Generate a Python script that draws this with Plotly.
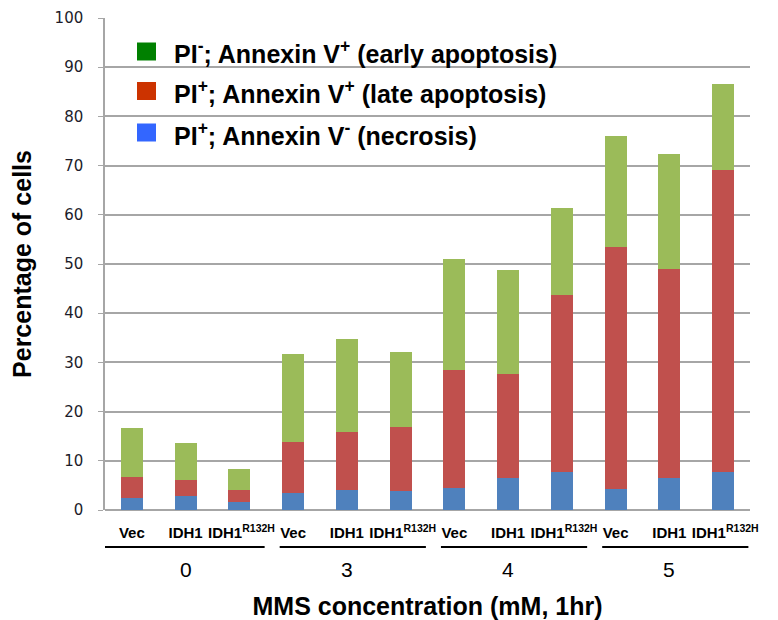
import plotly.graph_objects as go

# ---- data ----
concentrations = ["0", "3", "4", "5"]
constructs = ["Vec", "IDH1", "IDH1<sup>R132H</sup>"]
necrosis = [2.4, 2.9, 1.6, 3.5, 4.0, 3.8, 4.5, 6.6, 7.7, 4.2, 6.6, 7.7]          # PI+; Annexin V-
late_apoptosis = [4.3, 3.3, 2.4, 10.4, 11.8, 13.1, 23.9, 21.0, 35.9, 49.2, 42.4, 61.4]  # PI+; Annexin V+
early_apoptosis = [9.9, 7.4, 4.3, 17.9, 19.0, 15.2, 22.7, 21.2, 17.7, 22.7, 23.3, 17.5]  # PI-; Annexin V+
y_ticks = [0, 10, 20, 30, 40, 50, 60, 70, 80, 90, 100]

legend_labels = [
    "PI<sup>-</sup>; Annexin V<sup>+</sup> (early apoptosis)",
    "PI<sup>+</sup>; Annexin V<sup>+</sup> (late apoptosis)",
    "PI<sup>+</sup>; Annexin V<sup>-</sup> (necrosis)",
]

# ---- styles ----
bar_colors = {"nec": "#4F81BD", "late": "#C0504D", "early": "#9BBB59"}
legend_colors = ["#008000", "#CC3300", "#3366FF"]
FONT = "Arial, 'Liberation Sans', sans-serif"
GRID = "#A6A6A6"
NB = "\u00a0"
# (leading, trailing) non-breaking padding to nudge labels like the original layout
label_pad = [("", ""), ("", ""), (NB, "")]

n = len(necrosis)
xs = list(range(n))
tick_text = []
for i in xs:
    k = i % len(constructs)
    lead, trail = label_pad[k]
    tick_text.append(lead + constructs[k] + trail)

fig = go.Figure()
for vals, key in [(necrosis, "nec"), (late_apoptosis, "late"), (early_apoptosis, "early")]:
    fig.add_trace(go.Bar(x=xs, y=vals, marker=dict(color=bar_colors[key], line=dict(width=0)),
                         width=0.41, showlegend=False))

# page has an 8px body margin: figure sized/offset to compensate
PAGE_OFF = 8
W, H = 778 - PAGE_OFF, 620 - PAGE_OFF
PLOT_L, PLOT_T, PLOT_R, PLOT_B = 105, 18, 750, 510   # plot area in page pixels
pw, ph = PLOT_R - PLOT_L, PLOT_B - PLOT_T
ml, mt = PLOT_L - PAGE_OFF, PLOT_T - PAGE_OFF
mr, mb = W - ml - pw, H - mt - ph

def py_paper(py):
    return (PLOT_B - py) / ph

def px_paper(pxv):
    return (pxv - PLOT_L) / pw

shapes = []
annotations = []

# group underlines & labels
for g, c in enumerate(concentrations):
    x0 = g * 3 - 0.5 + (0.25 if g > 0 else -0.05)
    x1 = g * 3 + 2.47
    shapes.append(dict(type="line", xref="x", yref="paper", x0=x0, x1=x1,
                       y0=py_paper(547), y1=py_paper(547),
                       line=dict(color="black", width=2)))
    annotations.append(dict(text=c, xref="x", yref="paper", x=g * 3 + 1, y=py_paper(569),
                            xanchor="center", yanchor="middle", showarrow=False,
                            font=dict(family=FONT, size=21, color="black")))

# custom legend
row_y = [51.5, 91, 132.5]
for lab, col, ry in zip(legend_labels, legend_colors, row_y):
    shapes.append(dict(type="rect", xref="paper", yref="paper",
                       x0=px_paper(137), x1=px_paper(156),
                       y0=py_paper(ry + 9), y1=py_paper(ry - 9),
                       fillcolor=col, line=dict(width=0)))
    annotations.append(dict(text=lab, xref="paper", yref="paper", x=px_paper(172),
                            y=py_paper(ry + 1), xanchor="left", yanchor="middle", showarrow=False,
                            font=dict(family=FONT, size=25, color="black", weight="bold")))

fig.update_layout(
    width=W, height=H,
    margin=dict(l=ml, r=mr, t=mt, b=mb, autoexpand=False),
    paper_bgcolor="white", plot_bgcolor="white",
    barmode="stack", bargap=0.59,
    shapes=shapes, annotations=annotations,
    font=dict(family=FONT, color="black"),
    xaxis=dict(
        range=[-0.5, n - 0.5], tickmode="array", tickvals=xs, ticktext=tick_text,
        tickangle=0,
        tickfont=dict(family=FONT, size=15, color="black", weight="bold"),
        ticks="outside", ticklen=9, tickcolor="rgba(0,0,0,0)",
        showgrid=False, zeroline=False, showline=False,
        title=dict(text="MMS concentration (mM, 1hr)", standoff=57,
                   font=dict(family=FONT, size=25, color="black", weight="bold")),
    ),
    yaxis=dict(
        range=[0, 100], tickmode="array", tickvals=y_ticks,
        tickfont=dict(family="'DejaVu Sans', Verdana, sans-serif", size=15, color="#1c1c2a"),
        ticks="outside", ticklen=5, tickcolor=GRID, ticklabelstandoff=12,
        showgrid=True, gridcolor=GRID, gridwidth=1.5,
        showline=True, linecolor=GRID, linewidth=1.5,
        zeroline=True, zerolinecolor=GRID, zerolinewidth=1.5,
        title=dict(text="Percentage of cells", standoff=20,
                   font=dict(family=FONT, size=25, color="black", weight="bold")),
    ),
)

fig.write_html("out.html")
